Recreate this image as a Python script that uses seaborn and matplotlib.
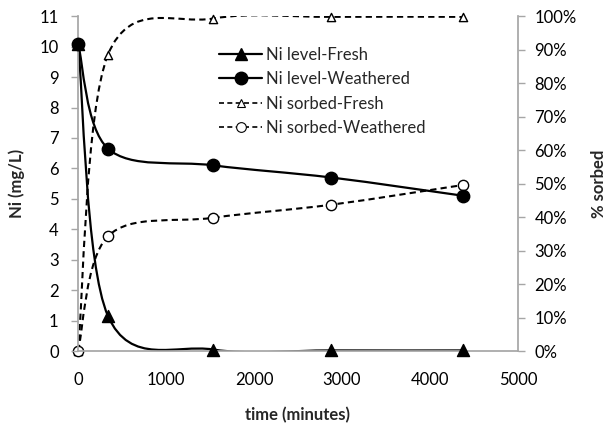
import numpy as np
import matplotlib
matplotlib.use("Agg")
import matplotlib.pyplot as plt
from matplotlib.path import Path
from matplotlib.patches import PathPatch
from matplotlib.lines import Line2D
from matplotlib.ticker import PercentFormatter
import seaborn as sns

sns.set_theme(style="white")
plt.rcParams["font.family"] = ["Lato", "DejaVu Sans"]

# ---------------------------------------------------------
# Data
# ---------------------------------------------------------
time_min = [0, 340, 1535, 2880, 4380]
level_fresh = [10.1, 1.15, 0.05, 0.02, 0.02]
level_weathered = [10.1, 6.65, 6.1, 5.7, 5.1]
sorbed_fresh = [0.0, 0.885, 0.993, 0.998, 0.998]
sorbed_weathered = [0.0, 0.343, 0.398, 0.437, 0.496]

GRAY = "#a6a6a6"
FS = 12


def smooth_path(x, y):
    # Excel-style smoothed line: cubic bezier through the points
    pts = np.column_stack([x, y]).astype(float)
    ext = np.vstack([pts[0], pts, pts[-1]])
    verts = [pts[0]]
    codes = [Path.MOVETO]
    for i in range(len(pts) - 1):
        p0, p1, p2, p3 = ext[i], ext[i + 1], ext[i + 2], ext[i + 3]
        verts += [p1 + (p2 - p0) / 6, p2 - (p3 - p1) / 6, p2]
        codes += [Path.CURVE4] * 3
    return Path(verts, codes)


def draw_series(ax, x, y, ls, lw, marker, face, size):
    ax.add_patch(PathPatch(smooth_path(x, y), fill=False, edgecolor="black",
                           lw=lw, linestyle=ls, zorder=2))
    sns.scatterplot(x=x, y=y, ax=ax, marker=marker, s=size, color=face,
                    edgecolor="black", linewidth=1.0, zorder=3, legend=False,
                    clip_on=False)


fig = plt.figure(figsize=(6.1, 4.26), dpi=100)
ax = fig.add_axes([0.128, 0.176, 0.721, 0.786])
ax2 = ax.twinx()

draw_series(ax, time_min, level_fresh, "-", 1.6, "^", "black", 75)
draw_series(ax, time_min, level_weathered, "-", 1.6, "o", "black", 80)
draw_series(ax2, time_min, sorbed_fresh, (0, (3, 2)), 1.5, "^", "white", 35)
draw_series(ax2, time_min, sorbed_weathered, (0, (3, 2)), 1.5, "o", "white", 55)

ax.set_xlim(0, 5000)
ax.set_ylim(0, 11)
ax2.set_ylim(0, 1.0)
ax.set_xticks(range(0, 5001, 1000))
ax.set_yticks(range(0, 12))
ax2.set_yticks(np.arange(0, 1.01, 0.1))
ax2.yaxis.set_major_formatter(PercentFormatter(1.0, decimals=0))

for a in (ax, ax2):
    for s in a.spines.values():
        s.set_visible(False)
    a.tick_params(axis="both", colors=GRAY, labelcolor="black", labelsize=FS,
                  length=5, width=1, direction="out")
    a.grid(False)
ax.spines["left"].set_visible(True)
ax.spines["bottom"].set_visible(True)
ax2.spines["right"].set_visible(True)
ax.spines["left"].set_color(GRAY)
ax.spines["bottom"].set_color(GRAY)
ax2.spines["right"].set_color(GRAY)
ax.set_zorder(ax2.get_zorder() + 1)
ax.patch.set_visible(False)
ax.tick_params(axis="x", pad=10)
ax.tick_params(axis="y", pad=9)
ax2.tick_params(axis="y", pad=7)

ax.set_xlabel("time (minutes)", fontsize=FS, fontweight="bold", labelpad=14)
ax.set_ylabel("Ni (mg/L)", fontsize=FS, fontweight="bold", labelpad=10)
ax2.set_ylabel("% sorbed", fontsize=FS, fontweight="bold", labelpad=10)

handles = [
    Line2D([], [], color="black", lw=1.6, marker="^", ms=8.5),
    Line2D([], [], color="black", lw=1.6, marker="o", ms=9),
    Line2D([], [], color="black", lw=1.2, ls=(0, (3, 2)), marker="^", ms=6,
           mfc="white", mec="black", mew=0.8),
    Line2D([], [], color="black", lw=1.2, ls=(0, (3, 2)), marker="o", ms=7,
           mfc="white", mec="black", mew=0.8),
]
labels = ["Ni level-Fresh", "Ni level-Weathered", "Ni sorbed-Fresh",
          "Ni sorbed-Weathered"]
ax.legend(handles, labels, loc="upper left", bbox_to_anchor=(0.305, 0.928),
          frameon=False, fontsize=FS, handlelength=2.6, handletextpad=0.25,
          labelspacing=0.5, borderaxespad=0)

fig.savefig("out.png", dpi=100)
